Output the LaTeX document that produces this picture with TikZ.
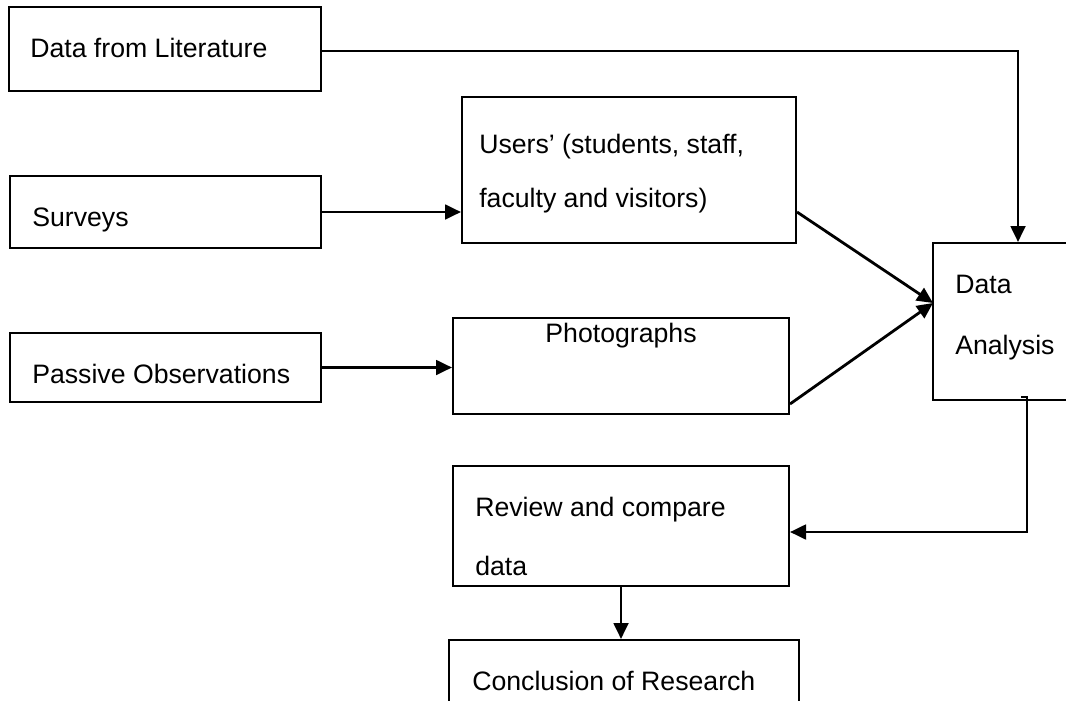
\documentclass[tikz,border=0pt]{standalone}
\usepackage{fontspec}
\setmainfont{Liberation Sans}
\usetikzlibrary{arrows.meta,fit,calc}
\begin{document}
\begin{tikzpicture}[x=0.75pt,y=-0.75pt,
  box/.style={draw=black,line width=1.5pt,inner sep=0pt,fit={#1}},
  lbl/.style={inner sep=0pt,anchor=base west,font=\fontsize{20pt}{24pt}\selectfont},
  arr/.style={line width=2.1pt,-{Triangle[length=12pt,width=11pt]}}]
\useasboundingbox (0,0) rectangle (1066,700);
% boxes
\node[box={(9,7) (321,91)}] (lit) {};
\node[box={(10,176) (321,248)}] (sur) {};
\node[box={(10,333) (321,402)}] (pas) {};
\node[box={(462,97) (796,243)}] (users) {};
\node[box={(453,318) (789,414)}] (photo) {};
\node[box={(933,243) (1103,400)}] (da) {};
\node[box={(453,466) (789,586)}] (rev) {};
\node[box={(449,640) (799,760)}] (conc) {};
% texts
\node[lbl] (litT) at (30,57) {Data from Literature};
\node[lbl] (surT) at (32,226) {Surveys};
\node[lbl] (pasT) at (32,383) {Passive Observations};
\node[lbl] (usersT1) at (479,153) {Users’ (students, staff,};
\node[lbl] (usersT2) at (479,207) {faculty and visitors)};
\node[lbl,anchor=base] (photoT) at (621,342) {Photographs};
\node[lbl] (daT1) at (955,293) {Data};
\node[lbl] (daT2) at (955,354) {Analysis};
\node[lbl] (revT1) at (475,516) {Review and compare};
\node[lbl] (revT2) at (475,575) {data};
\node[lbl] (concT) at (472,690) {Conclusion of Research};
% connectors
\coordinate (dain) at (933,303);
\coordinate (dab) at (1021,397);
\coordinate (dav) at (1027,397);
\draw[arr] ($(lit.east)+(0,2)$) -| (da.north);
\draw[arr] (sur.east) -- (sur.east -| users.west);
\draw[arr] (pas.east) -- (pas.east -| photo.west);
\draw[arr] (users.east |- sur.east) -- (dain);
\draw[arr] ($(photo.south east)+(0,-11)$) -- (dain);
\draw[arr] (dab) -- (dav) |- ($(rev.east)+(0,6)$);
\draw[arr] (rev.south) -- (rev.south |- conc.north);
\end{tikzpicture}
\end{document}
